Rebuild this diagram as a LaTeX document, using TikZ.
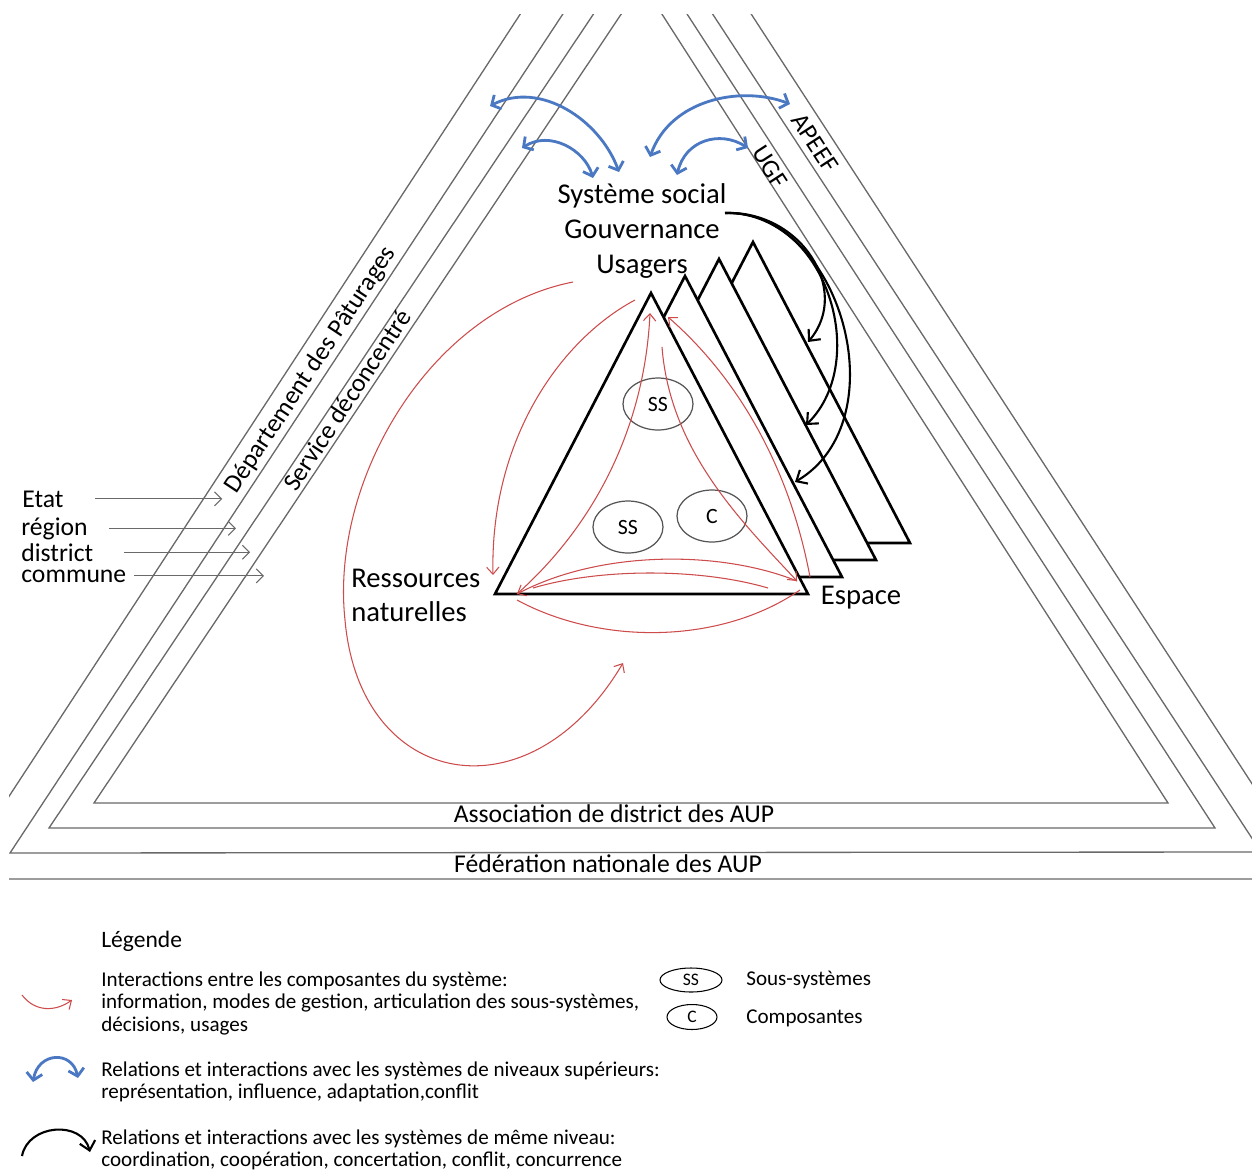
\documentclass[tikz,border=0pt]{standalone}
\usepackage{fontspec}
\setmainfont{Carlito}
\usepackage{xcolor}
\definecolor{LevelGray}{RGB}{105,105,105}
\definecolor{InterRed}{RGB}{205,75,75}
\definecolor{UpperBlue}{RGB}{74,120,194}
\definecolor{EllipseGray}{RGB}{85,85,85}
\usepackage{tikz}
\usetikzlibrary{shapes.geometric,arrows.meta,positioning,calc}

\tikzset{
  level/.style={draw=LevelGray, line width=0.75pt},
  layer/.style={draw=black, line width=1.5pt, fill=white},
  inter/.style={draw=InterRed, line width=0.6pt, -{Straight Barb[length=4pt,width=7pt]}},
  interline/.style={draw=InterRed, line width=0.6pt},
  upper/.style={draw=UpperBlue, line width=1.6pt,
    {Straight Barb[length=4pt,width=9pt]}-{Straight Barb[length=4pt,width=9pt]}},
  same/.style={draw=black, line width=1.2pt, -{Straight Barb[length=5pt,width=9pt]}},
  levelarrow/.style={draw=LevelGray, line width=0.6pt, -{Straight Barb[length=4pt,width=8pt]}},
  subsys/.style={ellipse, draw=EllipseGray, line width=0.7pt, inner sep=0pt,
    minimum width=1.4cm, minimum height=1.04cm, font=\fontsize{12.4}{14}\selectfont},
  bigtxt/.style={font=\fontsize{16.3}{19.9}\selectfont, inner sep=0pt},
  midtxt/.style={font=\fontsize{14.6}{16}\selectfont, inner sep=0pt},
  legtxt/.style={font=\fontsize{12}{12.8}\selectfont, align=left, anchor=west, inner sep=0pt},
}

\begin{document}
\begin{tikzpicture}[x=0.02cm, y=-0.02cm]
  \useasboundingbox (0,0) rectangle (1252,1171);

  % nested levels (gray)
  \begin{scope}
    \clip (9,14) rectangle (1252,1171);
    \draw[level] (94,803) -- (642,-17) -- (1168,803) -- cycle;
    \draw[level] (49,828) -- (641,-57) -- (1215,828) -- cycle;
    \draw[level] (10,853) -- (638,-100) -- (1261,852) -- cycle;
    \draw[level] (-45,879) -- (636,-163) -- (1314,879) -- cycle;
  \end{scope}

  \node[midtxt, rotate=56.5] (dept) at (311,370) {Département des Pâturages};
  \node[midtxt, rotate=56.5] (service) at (347,400) {Service déconcentré};
  \node[midtxt, rotate=-57] (apeef) at (815,143) {APEEF};
  \node[midtxt, rotate=-57] (ugf) at (770,167) {UGF};
  \node[midtxt] (assoc) at (614,814) {Association de district des AUP};
  \node[midtxt] (fede) at (608,864) {Fédération nationale des AUP};

  % administrative levels
  \node[midtxt, anchor=base west] (etat) at (22,507) {Etat};
  \node[midtxt, anchor=base west] (region) at (21,535) {région};
  \node[midtxt, anchor=base west] (district) at (21,561) {district};
  \node[midtxt, anchor=base west] (commune) at (21,582) {commune};
  \draw[levelarrow] ([xshift=0.63cm]etat.east) -- ([xshift=3.17cm]etat.east);
  \draw[levelarrow] ([xshift=0.42cm]region.east) -- ([xshift=2.96cm]region.east);
  \draw[levelarrow] ([xshift=0.61cm]district.east) -- ([xshift=3.13cm]district.east);
  \draw[levelarrow] ([xshift=0.15cm]commune.east) -- ([xshift=2.75cm]commune.east);

  % stacked systems
  \draw[layer] (753,242) -- (597,543) -- (910,543) -- cycle;
  \draw[layer] (719,259) -- (563,560) -- (876,560) -- cycle;
  \draw[layer] (685,276) -- (529,577) -- (842,577) -- cycle;
  \draw[layer] (651,293) -- (495,594) -- (808,594) -- cycle;

  \node[subsys] (ss-top) at (658,404) {SS};
  \node[subsys] (ss-left) at (628,527) {SS};
  \node[subsys] (comp) at (712,516) {C};

  \node[bigtxt, align=center] (social) at (642,231) {Système social\\Gouvernance\\Usagers};
  \node[bigtxt, align=left, anchor=west, font=\fontsize{16.3}{19.3}\selectfont] (ressources) at (351,595) {Ressources\\naturelles};
  \node[bigtxt] (espace) at (861,598) {Espace};

  % end points of the connectors
  \coordinate (apex) at (650,313);
  \coordinate (apex-b) at (668,317);
  \coordinate (corner-l) at (517,594);
  \coordinate (corner-r) at (797,581);

  % interactions (red)
  \draw[inter] (573,282) .. controls (430,310) and (330,480) .. (345,620)
    .. controls (360,790) and (530,820) .. (623,663);
  \draw[inter] (635,300) .. controls (560,340) and (490,440) .. (493,575);
  \draw[inter] (corner-l) .. controls (600,520) and (645,420) .. (apex);
  \draw[inter] (662,347) .. controls (670,450) and (740,520) .. (corner-r);
  \draw[inter] (810,577) .. controls (790,470) and (740,380) .. (apex-b);
  \draw[inter] (corner-r) .. controls (720,550) and (600,550) .. (corner-l);
  \draw[interline] (533,588) .. controls (600,568) and (700,568) .. (768,588);
  \draw[interline] (517,600) .. controls (600,645) and (720,645) .. (800,590);

  % higher levels (blue)
  \draw[upper] (490,106) .. controls (540,80) and (600,120) .. (619,172);
  \draw[upper] (522,148) .. controls (550,130) and (585,150) .. (593,178);
  \draw[upper] (650,157) .. controls (670,100) and (740,85) .. (790,104);
  \draw[upper] (677,175) .. controls (685,140) and (720,130) .. (748,148);

  % same level (black)
  \coordinate (same-start) at (725,213);
  \draw[same] (same-start) .. controls (800,210) and (852,290) .. (808,342);
  \draw[same] (same-start) .. controls (825,210) and (872,360) .. (806,425);
  \draw[same] (same-start) .. controls (840,210) and (900,420) .. (795,482);

  % legend
  \node[font=\fontsize{13.4}{15}\selectfont, anchor=base west, inner sep=0pt] (legende) at (101,947) {Légende};
  \node[legtxt] (leg-inter) at (101,1003) {Interactions entre les composantes du système:\\information, modes de gestion, articulation des sous-systèmes,\\décisions, usages};
  \node[legtxt] (leg-upper) at (101,1082) {Relations et interactions avec les systèmes de niveaux supérieurs:\\représentation, influence, adaptation,conflit};
  \node[legtxt] (leg-same) at (101,1150) {Relations et interactions avec les systèmes de même niveau:\\coordination, coopération, concertation, conflit, concurrence};
  \node[ellipse, draw=black, line width=0.6pt, inner sep=0pt, minimum width=1.24cm, minimum height=0.48cm, font=\fontsize{10}{12}\selectfont] (leg-ss) at (691,980) {SS};
  \node[ellipse, draw=black, line width=0.6pt, inner sep=0pt, minimum width=1.0cm, minimum height=0.5cm, font=\fontsize{10}{12}\selectfont] (leg-c) at (692,1017) {C};
  \node[legtxt] (leg-ss-txt) at (746,980) {Sous-systèmes};
  \node[legtxt] (leg-c-txt) at (746,1018) {Composantes};

  \draw[inter] (22,995) .. controls (35,1012) and (55,1012) .. (72,1000);
  \draw[upper] (33,1082) .. controls (38,1052) and (72,1050) .. (78,1078);
  \draw[same] (22,1156) .. controls (28,1124) and (82,1120) .. (90,1152);
\end{tikzpicture}
\end{document}
